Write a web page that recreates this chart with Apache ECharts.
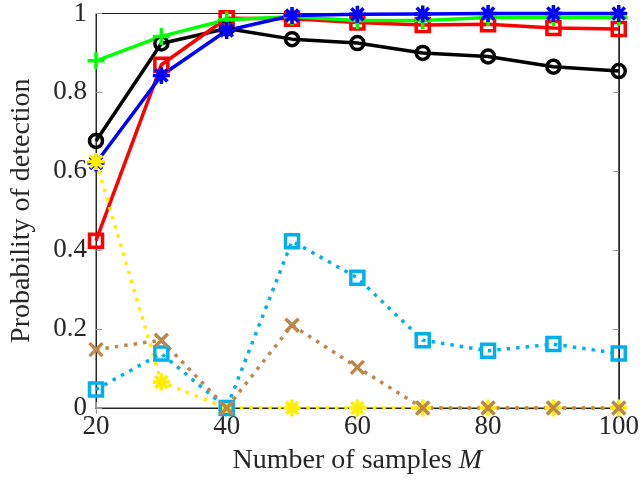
<!DOCTYPE html>
<html><head><meta charset="utf-8">
<script src="https://cdn.jsdelivr.net/npm/echarts@6/dist/echarts.min.js"></script>
<style>html,body{margin:0;padding:0;background:#fff}#c{width:642px;height:481px}</style>
</head><body><div id="c"></div>
<script>
const samples = [20, 30, 40, 50, 60, 70, 80, 90, 100];
const blackVals  = [0.677, 0.924, 0.962, 0.935, 0.925, 0.900, 0.891, 0.865, 0.854];
const redVals    = [0.424, 0.870, 0.988, 0.987, 0.977, 0.971, 0.973, 0.963, 0.961];
const greenVals  = [0.880, 0.942, 0.984, 0.992, 0.982, 0.982, 0.990, 0.990, 0.990];
const blueVals   = [0.621, 0.843, 0.957, 0.995, 0.998, 0.999, 1.0, 1.0, 1.0];
const yellowVals = [0.625, 0.066, 0, 0, 0, 0, 0, 0, 0];
const cyanVals   = [0.047, 0.138, 0, 0.423, 0.330, 0.172, 0.145, 0.162, 0.138];
const brownVals  = [0.148, 0.172, 0, 0.210, 0.103, 0, 0, 0, 0];
const xTicks = [20, 40, 60, 80, 100];
const yTicks = [0, 0.2, 0.4, 0.6, 0.8, 1];

const FONT = 'Liberation Serif';
const SYM = {
  circle: 'circle',
  square: 'rect',
  plus: 'path://M7,0V14M0,7H14',
  star: 'path://M7,0V14M0,7H14M2,2L12,12M2,12L12,2',
  cross: 'path://M0,0L12,12M0,12L12,0'
};
function pairs(vals){ return samples.map((m,i)=>[m, vals[i]]); }
function mk(vals, color, sym, size, dotted){
  return {
    type: 'line', data: pairs(vals), clip: false,
    symbol: SYM[sym], symbolSize: size, showAllSymbol: true,
    lineStyle: {color: color, width: 3.5, type: dotted ? [3.5, 6] : 'solid', cap: 'butt'},
    itemStyle: {color: 'rgba(0,0,0,0)', borderColor: color, borderWidth: 3.5},
    emphasis: {disabled: true}, animation: false
  };
}
const chart = echarts.init(document.getElementById('c'), null, {renderer: 'canvas'});
const axisCommon = {
  type: 'value',
  axisLine: {show: true, lineStyle: {color: '#262626', width: 1}},
  axisTick: {show: true, inside: true, length: 6, lineStyle: {color: '#999'}},
  splitLine: {show: false}
};
chart.setOption({
  animation: false,
  grid: {left: 92, right: 20, top: 12, bottom: 73, show: true, borderColor: '#262626', borderWidth: 1, containLabel: false},
  xAxis: [
    Object.assign({}, axisCommon, {
      min: xTicks[0], max: xTicks[xTicks.length-1], interval: xTicks[1]-xTicks[0], position: 'bottom',
      axisLabel: {color: '#262626', fontFamily: FONT, fontSize: 27, margin: 5},
      name: 'Number of samples {i|M}', nameLocation: 'middle', nameGap: 39,
      nameTextStyle: {color: '#262626', fontFamily: FONT, fontSize: 28,
        rich: {i: {fontStyle: 'italic', fontFamily: FONT, fontSize: 28, color: '#262626'}}}
    }),
    Object.assign({}, axisCommon, {
      min: xTicks[0], max: xTicks[xTicks.length-1], interval: xTicks[1]-xTicks[0], position: 'top',
      axisLabel: {show: false}
    })
  ],
  yAxis: [
    Object.assign({}, axisCommon, {
      min: yTicks[0], max: yTicks[yTicks.length-1], interval: yTicks[1]-yTicks[0], position: 'left',
      axisLabel: {color: '#262626', fontFamily: FONT, fontSize: 27, margin: 9,
        formatter: v => String(Math.round(v*10)/10)},
      name: 'Probability of detection', nameLocation: 'middle', nameGap: 60,
      nameTextStyle: {color: '#262626', fontFamily: FONT, fontSize: 28}
    }),
    Object.assign({}, axisCommon, {
      min: yTicks[0], max: yTicks[yTicks.length-1], interval: yTicks[1]-yTicks[0], position: 'right',
      axisLabel: {show: false}
    })
  ],
  series: [
    mk(blackVals, '#000000', 'circle', 13, false),
    mk(redVals, '#ff0000', 'square', 13, false),
    mk(greenVals, '#00ff00', 'plus', 17, false),
    mk(blueVals, '#0000ff', 'star', 17, false),
    mk(yellowVals, '#ffee00', 'star', 17, true),
    mk(cyanVals, '#00b0ee', 'square', 13, true),
    mk(brownVals, '#c0854a', 'cross', 13, true)
  ]
});
</script></body></html>
